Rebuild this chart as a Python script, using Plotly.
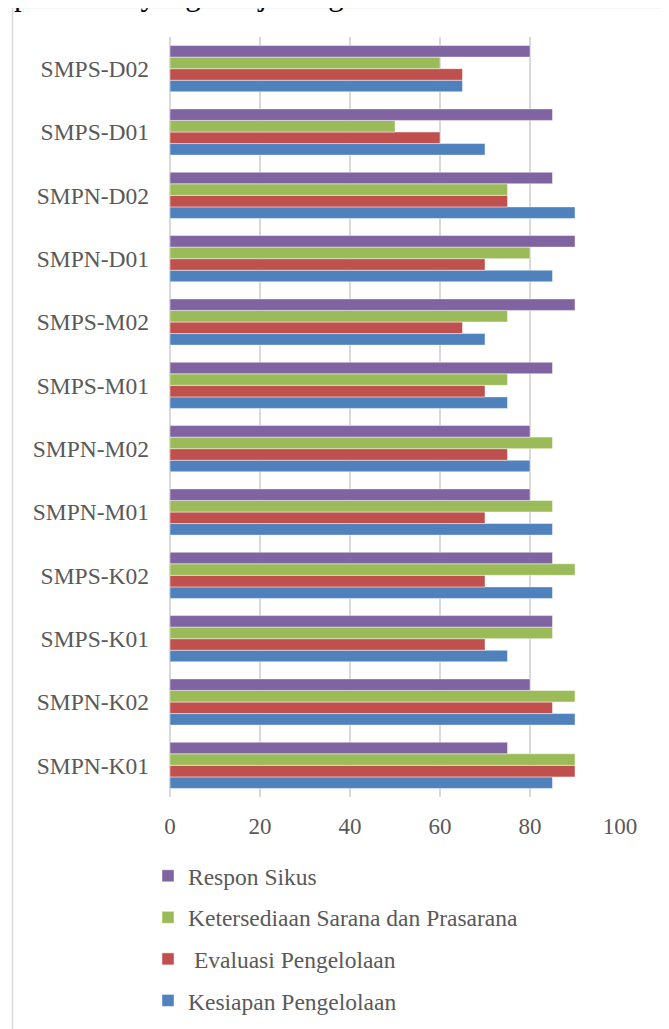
import plotly.graph_objects as go

categories = ["SMPN-K01", "SMPN-K02", "SMPS-K01", "SMPS-K02", "SMPN-M01", "SMPN-M02",
              "SMPS-M01", "SMPS-M02", "SMPN-D01", "SMPN-D02", "SMPS-D01", "SMPS-D02"]
kesiapan = [85, 90, 75, 85, 85, 80, 75, 70, 85, 90, 70, 65]
evaluasi = [90, 85, 70, 70, 70, 75, 70, 65, 70, 75, 60, 65]
ketersediaan = [90, 90, 85, 90, 85, 85, 75, 75, 80, 75, 50, 60]
respon = [75, 80, 85, 85, 80, 80, 85, 90, 90, 85, 85, 80]
x_ticks = [0, 20, 40, 60, 80, 100]

series = [
    ("Kesiapan Pengelolaan", kesiapan, "#4F81BD", 4),
    (" Evaluasi Pengelolaan", evaluasi, "#C0504D", 3),
    ("Ketersediaan Sarana dan Prasarana", ketersediaan, "#9BBB59", 2),
    ("Respon Sikus", respon, "#8064A2", 1),
]

FONT = "Liberation Serif, Times New Roman, serif"
TXT = "#595959"

fig = go.Figure()
for i, (name, vals, col, rank) in enumerate(series):
    fig.add_trace(go.Bar(
        y=categories, x=vals, name=name, orientation="h",
        marker=dict(color=col, line=dict(color="rgba(255,255,255,0.45)", width=1)),
        legendgroup=f"g{i}", legendrank=rank,
    ))

OFF = 8  # page body margin
W, H = 669 - OFF, 1029 - OFF
# plot area in reference (page) pixels
RL, RR, RT, RB = 170, 620, 37, 797
L, R, T, B = RL - OFF, RR - OFF, RT - OFF, RB - OFF

def px_x(p):
    return (p - RL) / (RR - RL)

def px_y(p):
    return (RB - p) / (RB - RT)

fig.update_layout(
    width=W, height=H,
    margin=dict(l=L, r=W - R, t=T, b=H - B, autoexpand=False),
    barmode="group", bargap=0.27, bargroupgap=0,
    plot_bgcolor="white", paper_bgcolor="white",
    font=dict(family=FONT, size=23.5, color=TXT),
    showlegend=True,
    legend=dict(
        x=px_x(148), xanchor="left", y=px_y(854), yanchor="top",
        traceorder="grouped", tracegroupgap=8,
        font=dict(family=FONT, size=23.5, color=TXT),
        bgcolor="rgba(0,0,0,0)",
    ),
    xaxis=dict(
        range=[0, 100], tickvals=x_ticks, ticktext=[str(v) for v in x_ticks],
        showgrid=True, gridcolor="#D9D9D9", gridwidth=1.5,
        zeroline=True, zerolinecolor="#D9D9D9", zerolinewidth=1.5,
        showline=False, ticks="", ticklabelstandoff=13,
        tickfont=dict(family=FONT, size=23, color=TXT),
        fixedrange=True,
    ),
    yaxis=dict(
        categoryorder="array", categoryarray=categories,
        showgrid=False, zeroline=False, showline=False, ticks="",
        ticklabelstandoff=20,
        tickfont=dict(family=FONT, size=23.5, color=TXT),
        fixedrange=True,
    ),
    shapes=[dict(
        type="rect", xref="paper", yref="paper",
        x0=px_x(12.5), x1=px_x(666), y0=px_y(1045), y1=px_y(7.5),
        line=dict(color="#D9D9D9", width=1.5), fillcolor="rgba(0,0,0,0)", layer="below",
    )],
    annotations=[dict(
        text="pemetaan yang disajikan grafik di bawah",
        xref="paper", yref="paper", x=px_x(12), y=px_y(14),
        xanchor="left", yanchor="bottom", showarrow=False,
        font=dict(family=FONT, size=31, color="black"),
    )],
)

fig.write_html("out.html")
